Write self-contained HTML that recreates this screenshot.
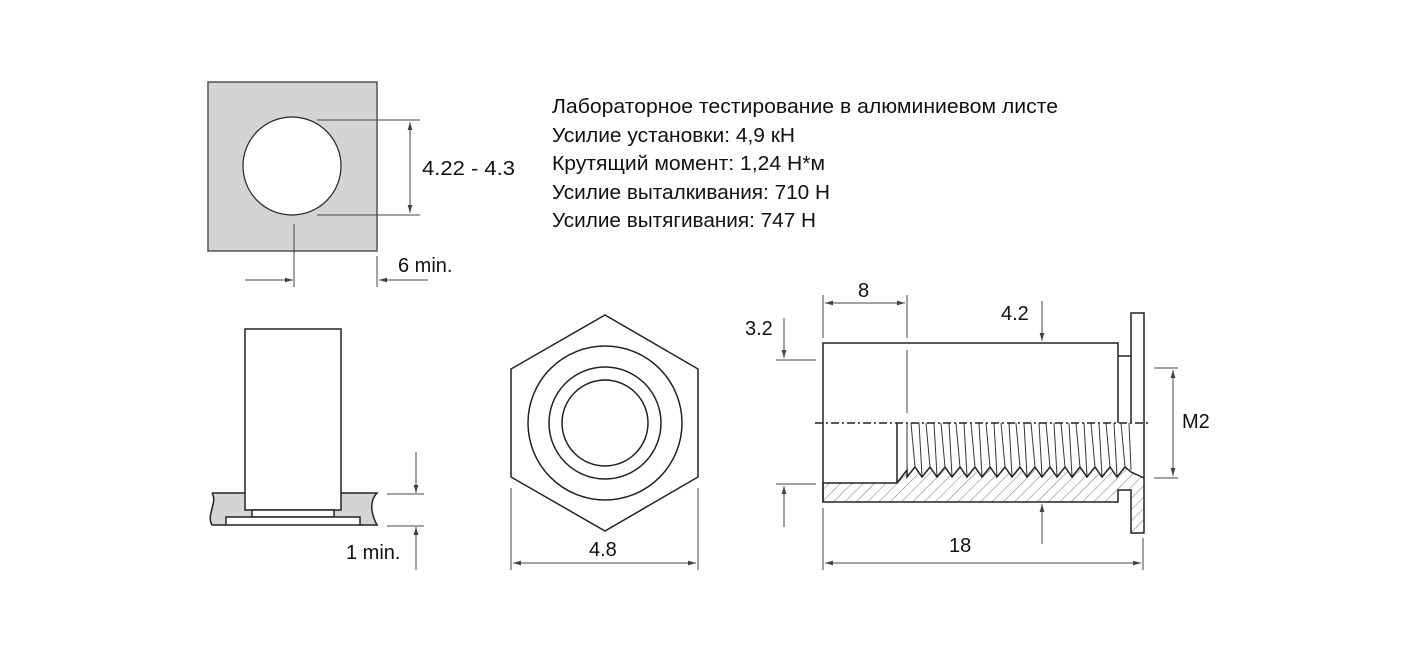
<!DOCTYPE html>
<html><head><style>body{margin:0;background:#fff}svg{display:block}text{font-family:"Liberation Sans",sans-serif;fill:#111}</style></head>
<body>
<svg width="1416" height="672" viewBox="0 0 1416 672" xmlns="http://www.w3.org/2000/svg">
<defs>
<marker id="a" viewBox="0 0 10 10" refX="10" refY="5" markerWidth="8" markerHeight="8" orient="auto-start-reverse"><path d="M0,2 L10,5 L0,8 z" fill="#444"/></marker>
<pattern id="h" width="8" height="8" patternUnits="userSpaceOnUse" patternTransform="rotate(45)"><line x1="0" y1="0" x2="0" y2="8" stroke="#555" stroke-width="0.8"/></pattern>
</defs>
<g stroke="#444" stroke-width="1" fill="none">
<rect x="208" y="82" width="169" height="169" fill="#d4d4d4" stroke="#555" stroke-width="1.5"/>
<circle cx="292" cy="166" r="49" fill="#fff" stroke="#222" stroke-width="1.2"/>
<line x1="317" y1="120" x2="420" y2="120"/><line x1="317" y1="215" x2="420" y2="215"/>
<line x1="410" y1="122" x2="410" y2="213" marker-start="url(#a)" marker-end="url(#a)"/>
<line x1="294" y1="224" x2="294" y2="287"/><line x1="377" y1="256" x2="377" y2="287"/>
<line x1="245" y1="280" x2="293" y2="280" marker-end="url(#a)"/>
<line x1="428" y1="280" x2="379" y2="280" marker-end="url(#a)"/>
<path d="M212,493 L245,493 L245,510 L252,510 L252,517 L226,517 L226,525 L212,525 C206,515 218,502 212,493 Z" fill="#d4d4d4" stroke="none"/>
<path d="M341,493 L377,493 C370,500 370,512 377,525 L360,525 L360,517 L334,517 L334,510 L341,510 Z" fill="#d4d4d4" stroke="none"/>
<path d="M212,493 L245,493 M341,493 L377,493 C370,500 370,512 377,525 L360,525 M226,525 L212,525 C206,515 218,502 212,493" stroke="#222" stroke-width="1.5"/>
<rect x="245" y="329" width="96" height="181" fill="#fff" stroke="#222" stroke-width="1.5"/>
<rect x="252" y="510" width="82" height="7" fill="#fff" stroke="#222" stroke-width="1.5"/>
<rect x="226" y="517" width="134" height="8" fill="#fff" stroke="#222" stroke-width="1.5"/>
<line x1="387" y1="494" x2="424" y2="494"/><line x1="387" y1="526" x2="424" y2="526"/>
<line x1="416" y1="452" x2="416" y2="493" marker-end="url(#a)"/>
<line x1="416" y1="570" x2="416" y2="527" marker-end="url(#a)"/>
<polygon points="605,315 698,369 698,477 605,531 511,477 511,369" stroke="#222" stroke-width="1.5"/>
<circle cx="605" cy="423" r="77" stroke="#222" stroke-width="1.5"/>
<circle cx="605" cy="423" r="56" stroke="#222" stroke-width="1.5"/>
<circle cx="605" cy="423" r="43" stroke="#222" stroke-width="1.5"/>
<line x1="511" y1="488" x2="511" y2="570"/><line x1="698" y1="488" x2="698" y2="570"/>
<line x1="513" y1="563" x2="696" y2="563" marker-start="url(#a)" marker-end="url(#a)"/>
<path d="M823,502 L823,483 L897,483 L907,470 L907,477 L915,467 L922,477 L930,467 L937,477 L945,467 L952,477 L960,467 L967,477 L975,467 L982,477 L990,467 L997,477 L1005,467 L1012,477 L1020,467 L1027,477 L1035,467 L1042,477 L1050,467 L1057,477 L1065,467 L1072,477 L1080,467 L1087,477 L1095,467 L1102,477 L1110,467 L1117,477 L1125,467 L1131,472 L1144,478 L1144,533 L1131,533 L1131,490 L1118,490 L1118,502 Z" fill="url(#h)" stroke="#222" stroke-width="1.5"/>
<path d="M823,502 L823,343 L1118,343 L1118,423 M1118,356 L1131,356" stroke="#222" stroke-width="1.5"/>
<path d="M1131,423 L1131,313 L1144,313 L1144,478" stroke="#222" stroke-width="1.5"/>
<line x1="897" y1="423" x2="897" y2="483" stroke="#222" stroke-width="1.5"/>
<g stroke="#333" stroke-width="1">
<path d="M907,423 L907,470 M911,423 L915,467 M919,423 L922,476 M926,423 L930,467 M934,423 L937,476 M941,423 L945,467 M949,423 L952,476 M956,423 L960,467 M964,423 L967,476 M971,423 L975,467 M979,423 L982,476 M986,423 L990,467 M994,423 L997,476 M1001,423 L1005,467 M1009,423 L1012,476 M1016,423 L1020,467 M1024,423 L1027,476 M1031,423 L1035,467 M1039,423 L1042,476 M1046,423 L1050,467 M1054,423 L1057,476 M1061,423 L1065,467 M1069,423 L1072,476 M1076,423 L1080,467 M1084,423 L1087,476 M1091,423 L1095,467 M1099,423 L1102,476 M1106,423 L1110,467 M1114,423 L1117,476 M1121,423 L1125,467 M1129,423 L1131,470"/>
</g>
<line x1="815" y1="423" x2="1150" y2="423" stroke="#222" stroke-width="1.5" stroke-dasharray="8,3,2,3"/>
<line x1="907" y1="295" x2="907" y2="338"/><line x1="907" y1="350" x2="907" y2="413"/>
<line x1="823" y1="295" x2="823" y2="338"/>
<line x1="825" y1="303" x2="905" y2="303" marker-start="url(#a)" marker-end="url(#a)"/>
<line x1="776" y1="360" x2="816" y2="360"/><line x1="776" y1="484" x2="816" y2="484"/>
<line x1="784" y1="318" x2="784" y2="358" marker-end="url(#a)"/>
<line x1="784" y1="527" x2="784" y2="486" marker-end="url(#a)"/>
<line x1="1042" y1="301" x2="1042" y2="341" marker-end="url(#a)"/>
<line x1="1042" y1="544" x2="1042" y2="504" marker-end="url(#a)"/>
<line x1="1154" y1="368" x2="1178" y2="368"/><line x1="1154" y1="478" x2="1178" y2="478"/>
<line x1="1173" y1="370" x2="1173" y2="476" marker-start="url(#a)" marker-end="url(#a)"/>
<line x1="823" y1="508" x2="823" y2="570"/><line x1="1143" y1="538" x2="1143" y2="570"/>
<line x1="825" y1="563" x2="1141" y2="563" marker-start="url(#a)" marker-end="url(#a)"/>
</g>
<text x="422" y="175" font-size="20" textLength="93" lengthAdjust="spacingAndGlyphs">4.22 - 4.3</text>
<text x="398" y="272" font-size="20">6 min.</text>
<text x="346" y="559" font-size="20">1 min.</text>
<text x="589" y="556" font-size="20">4.8</text>
<text x="858" y="297" font-size="20">8</text>
<text x="745" y="335" font-size="20">3.2</text>
<text x="1001" y="320" font-size="20">4.2</text>
<text x="1182" y="428" font-size="20">M2</text>
<text x="949" y="552" font-size="20">18</text>
<g font-size="20">
<text x="552" y="113" textLength="506" lengthAdjust="spacingAndGlyphs">Лабораторное тестирование в алюминиевом листе</text>
<text x="552" y="142" textLength="243" lengthAdjust="spacingAndGlyphs">Усилие установки: 4,9 кН</text>
<text x="552" y="170" textLength="273" lengthAdjust="spacingAndGlyphs">Крутящий момент: 1,24 Н*м</text>
<text x="552" y="199" textLength="278" lengthAdjust="spacingAndGlyphs">Усилие выталкивания: 710 Н</text>
<text x="552" y="227" textLength="264" lengthAdjust="spacingAndGlyphs">Усилие вытягивания: 747 Н</text>
</g>
</svg>
</body></html>
